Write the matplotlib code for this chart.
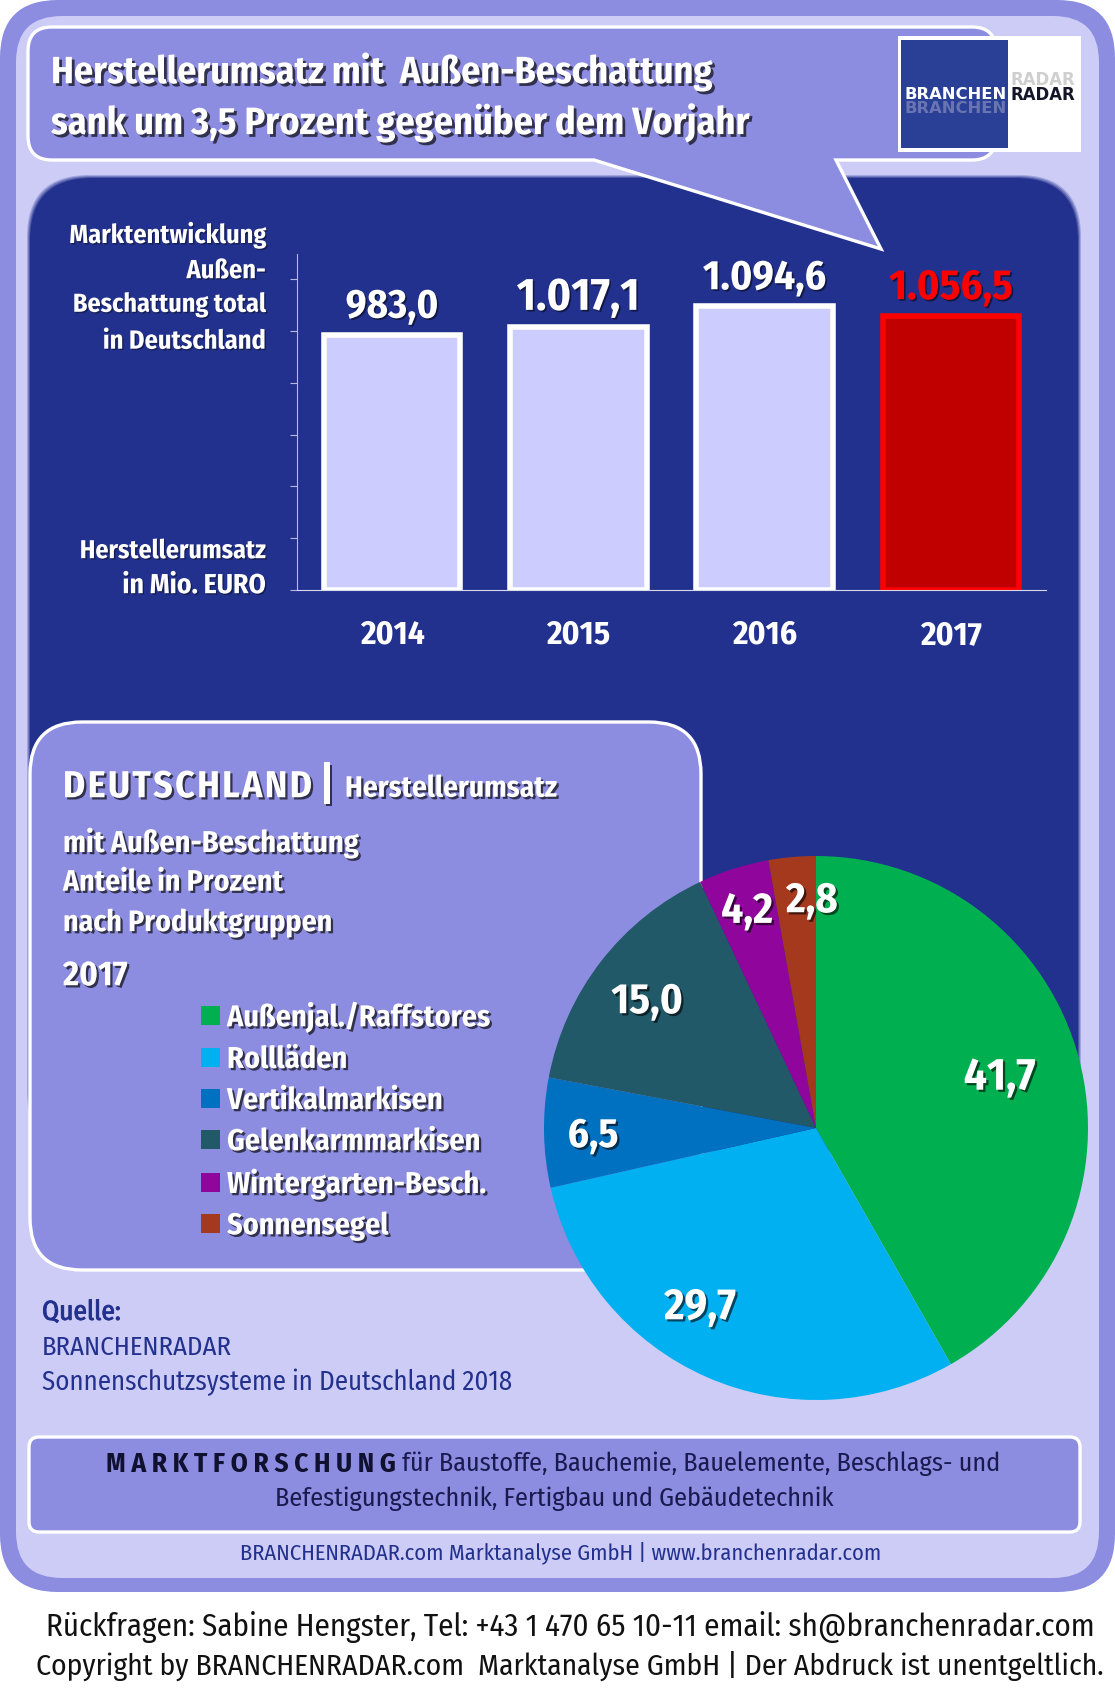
# coding: utf-8
'''
Herstellerumsatz mit Aussen-Beschattung: Balken 2014-2017 und Anteile 2017 als Torte.
Alle Deko-Elemente liegen auf einer Achse in Pixelkoordinaten.
'''

import logging

import matplotlib
matplotlib.use('Agg')
import matplotlib.pyplot as plt
import matplotlib.patheffects as pe
from matplotlib.patches import FancyBboxPatch, PathPatch, Rectangle
from matplotlib.path import Path
import numpy as np

logging.getLogger('matplotlib.font_manager').setLevel(logging.ERROR)

years = ['2014', '2015', '2016', '2017']
revenue = [983.0, 1017.1, 1094.6, 1056.5]
revenue_labels = ['983,0', '1.017,1', '1.094,6', '1.056,5']

groups = ['Außenjal./Raffstores', 'Rollläden', 'Vertikalmarkisen',
          'Gelenkarmmarkisen', 'Wintergarten-Besch.', 'Sonnensegel']
shares = [41.7, 29.7, 6.5, 15.0, 4.2, 2.8]
share_labels = ['41,7', '29,7', '6,5', '15,0', '4,2', '2,8']

W, H = 1115, 1698
OUTER = '#8C8CE0'
INNER = '#CCCCF6'
DARK = '#23318E'
BAR = '#CCCCFF'
pie_colors = ['#00B050', '#00B0F0', '#0070C0', '#215968', '#90059B', '#A5391E']

# Узкий шрифт, если он есть; ширина текста всё равно подгоняется в fit()
plt.rcParams['font.family'] = ['Fira Sans Condensed', 'PT Sans Narrow', 'Lato', 'DejaVu Sans']

fig = plt.figure(figsize=(W / 100, H / 100), dpi=100, facecolor='white')
renderer = fig.canvas.get_renderer()


def px_axes(x0, y0, x1, y1):
    '''Оси по пиксельному прямоугольнику (y сверху вниз).'''
    return fig.add_axes([x0 / W, 1 - y1 / H, (x1 - x0) / W, (y1 - y0) / H])


def shadow(dx=1.6, dy=-1.6, alpha=0.65):
    return [pe.withSimplePatchShadow(offset=(dx, dy), shadow_rgbFace='black', alpha=alpha)]


def fit(t, width):
    '''Подгонка размера шрифта под ширину текста в пикселях.'''
    t.set_fontsize(t.get_fontsize() * width / t.get_window_extent(renderer).width)
    return t


def round_box(x0, y0, x1, y1, r, fc, ec='none', lw=0, **kw):
    box = FancyBboxPatch((x0 + r, y0 + r), x1 - x0 - 2 * r, y1 - y0 - 2 * r,
                         boxstyle='round,pad=%g,rounding_size=%g' % (r, r),
                         fc=fc, ec=ec, lw=lw, **kw)
    bg.add_patch(box)
    return box


def label(x, y, s, width, color='white', weight='bold', fx=None, **kw):
    t = bg.text(x, y + 2, s, color=color, fontweight=weight, va='center', **kw)
    fit(t, width)
    if fx:
        t.set_path_effects(fx)
    return t


# Фон и панели
bg = px_axes(0, 0, W, H)
bg.set_xlim(0, W)
bg.set_ylim(H, 0)
bg.axis('off')

round_box(0, 0, 1115, 1592, 58, OUTER)
round_box(16, 16, 1099, 1578, 46, INNER)
for grow, a in zip([3, 2, 1], [0.25, 0.35, 0.5]):
    round_box(30 - grow, 178 - grow, 1078 + grow, 1150 + grow, 62, DARK, alpha=a)
round_box(30, 178, 1078, 1150, 62, DARK)

# Сноска заголовка с хвостиком
r = 24
x0, x1, y0, y1 = 28, 996, 27, 160
verts = [(x0 + r, y0), (x1 - r, y0), (x1, y0), (x1, y0 + r), (x1, y1 - r), (x1, y1), (x1 - r, y1),
         (836, y1), (881, 249), (594, y1), (x0 + r, y1), (x0, y1), (x0, y1 - r), (x0, y0 + r),
         (x0, y0), (x0 + r, y0)]
codes = [Path.MOVETO, Path.LINETO, Path.CURVE3, Path.CURVE3, Path.LINETO, Path.CURVE3, Path.CURVE3,
         Path.LINETO, Path.LINETO, Path.LINETO, Path.LINETO, Path.CURVE3, Path.CURVE3, Path.LINETO,
         Path.CURVE3, Path.CURVE3]
bg.add_patch(PathPatch(Path(verts, codes), fc=OUTER, ec='white', lw=2.4))

label(51, 70, 'Herstellerumsatz mit  Außen-Beschattung', 664, fx=shadow(2, -2))
label(51, 121, 'sank um 3,5 Prozent gegenüber dem Vorjahr', 700, fx=shadow(2, -2))

# Логотип
bg.add_patch(Rectangle((898, 36), 183, 116, fc='white', ec='none'))
bg.add_patch(Rectangle((901, 40), 107, 108, fc='#2A3F96', ec='none'))
label(905, 106, 'BRANCHEN', 102, color='#A8ACD0', family='DejaVu Sans', alpha=0.5)
label(1010, 78, 'RADAR', 65, color='#BBBBBB', family='DejaVu Sans', alpha=0.7)
label(905, 92, 'BRANCHEN', 102, family='DejaVu Sans')
label(1010, 93, 'RADAR', 65, color='#15152A', family='DejaVu Sans')

# Подпись оси столбцов
for y, s, w in zip([234, 268.5, 303, 339, 549, 583.5],
                   ['Marktentwicklung', 'Außen-', 'Beschattung total', 'in Deutschland',
                    'Herstellerumsatz', 'in Mio. EURO'],
                   [198, 80, 194, 163, 187, 143]):
    label(266, y, s, w, ha='right', fx=shadow(1, -1, 0.4))

# Столбцы
ax = px_axes(297, 254, 1046, 590)
ax.patch.set_alpha(0)
xpos = np.arange(len(years))
bars = ax.bar(xpos, revenue, width=0.735, color=BAR, edgecolor='white', linewidth=4)
bars[-1].set_facecolor('#C00000')
bars[-1].set_edgecolor('#FF0000')
ax.set_xlim(-0.51, 3.51)
ax.set_ylim(0, 1297)
ax.set_yticks(np.arange(0, 1201, 200))
ax.set_yticklabels([])
ax.set_xticks(xpos)
ax.set_xticklabels(years, color='white', fontweight='bold')
ax.tick_params(axis='x', length=0, pad=21)
ax.tick_params(axis='y', length=5, width=0.8, color='#B8B8D8')
for side in ['top', 'right']:
    ax.spines[side].set_visible(False)
ax.spines['left'].set_color('#B8B8D8')
ax.spines['bottom'].set_color('#D8D8EE')
year_size = fit(ax.get_xticklabels()[0], 65).get_fontsize()
ax.tick_params(axis='x', labelsize=year_size)
value_widths = [93, 123, 123, 124]
for i, v in enumerate(revenue):
    color = '#FF0000' if i == len(revenue) - 1 else 'white'
    t = ax.annotate(revenue_labels[i], (i, v), xytext=(0, 20.5), textcoords='offset points',
                    color=color, fontweight='bold', ha='center', va='center',
                    path_effects=shadow(1.2, -1.2, 0.5))
    fit(t, value_widths[i])

# Блок с подписью к торту
round_box(30, 722, 701, 1270, 52, OUTER, ec='white', lw=2.4)
label(63, 785, '\u200a'.join('DEUTSCHLAND'), 248, fx=shadow())
label(327, 785, '|', 15, ha='center', fx=shadow())
label(345, 787, 'Herstellerumsatz', 213, fx=shadow())
for y, s, w in zip([841, 881, 921, 974],
                   ['mit Außen-Beschattung', 'Anteile in Prozent', 'nach Produktgruppen', '2017'],
                   [297, 221, 270, 65]):
    label(63, y, s, w, fx=shadow())

# Источник
label(42, 1310, 'Quelle:', 79, color=DARK, weight='normal',
      fx=[pe.withStroke(linewidth=0.6, foreground=DARK)])
label(42, 1345.5, 'BRANCHENRADAR', 188, color=DARK, weight='normal')
label(42, 1380, 'Sonnenschutzsysteme in Deutschland 2018', 473, color=DARK, weight='normal')

# Нижний блок
round_box(29, 1437, 1080, 1532, 10, OUTER, ec='white', lw=2.4)
label(106, 1462, 'M A R K T F O R S C H U N G', 289, color='#101030')
label(402, 1462, 'für Baustoffe, Bauchemie, Bauelemente, Beschlags- und', 600, color='#1A1A50',
      weight='normal')
label(554, 1497, 'Befestigungstechnik, Fertigbau und Gebäudetechnik', 561, color='#1A1A50',
      weight='normal', ha='center')
label(561, 1551, 'BRANCHENRADAR.com Marktanalyse GmbH | www.branchenradar.com', 640, color=DARK,
      weight='normal', ha='center')
label(570, 1625, 'Rückfragen: Sabine Hengster, Tel: +43 1 470 65 10-11 email: sh@branchenradar.com',
      1051, color='#111111', weight='normal', ha='center')
label(570, 1664, 'Copyright by BRANCHENRADAR.com  Marktanalyse GmbH | Der Abdruck ist unentgeltlich.',
      1068, color='#111111', weight='normal', ha='center')

# Торт
ax_pie = px_axes(544, 856, 1088, 1400)
ax_pie.patch.set_alpha(0)
wedges, _ = ax_pie.pie(shares, colors=pie_colors, startangle=90, counterclock=False, radius=1)
ax_pie.set_xlim(-1, 1)
ax_pie.set_ylim(-1, 1)

# Подписи сидят не точно на биссектрисе сектора
label_radius = [0.70, 0.787, 0.82, 0.775, 0.835, 0.835]
label_shift = [0.4, -9, 1, 1, 0, -4]
label_widths = [72, 72, 51, 72, 52, 52]
for w, s, rad, shift, lw in zip(wedges, share_labels, label_radius, label_shift, label_widths):
    ang = np.radians((w.theta1 + w.theta2) / 2 + shift)
    t = ax_pie.text(rad * np.cos(ang), rad * np.sin(ang), s, color='white', fontweight='bold',
                    ha='center', va='center', path_effects=shadow(1.6, -1.6, 0.6))
    fit(t, lw)

# Легенда: размер шрифта берём по самой длинной подписи
probe = fit(bg.text(0, 0, groups[0], fontweight='bold'), 264)
leg_size = probe.get_fontsize()
probe.remove()
leg_px = leg_size * 100 / 72
leg = ax_pie.legend(wedges, groups, loc='upper left', bbox_to_anchor=(201 / W, 1 - 1001 / H),
                    bbox_transform=fig.transFigure, frameon=False, fontsize=leg_size,
                    handlelength=19 / leg_px, handleheight=18 / leg_px,
                    handletextpad=7 / leg_px, labelspacing=(39.7 - leg_px * 0.95) / leg_px,
                    borderpad=0, borderaxespad=0)
for t in leg.get_texts():
    t.set_color('white')
    t.set_fontweight('bold')
    t.set_path_effects(shadow())

fig.savefig('out.png', dpi=100, facecolor='white')
